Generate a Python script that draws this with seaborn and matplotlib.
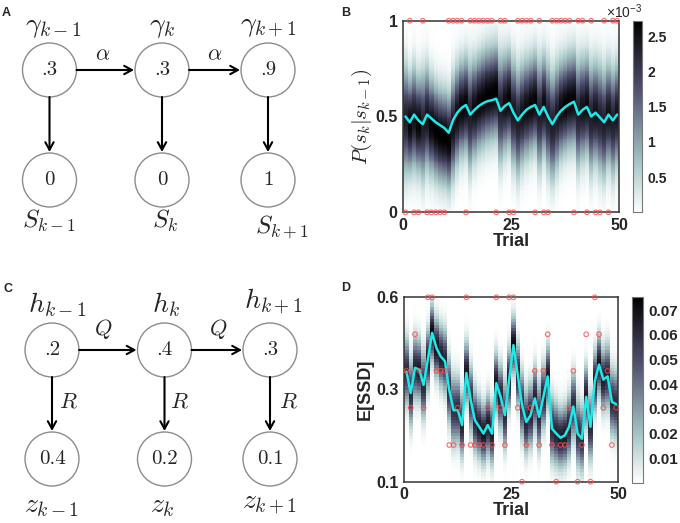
import numpy as np
import pandas as pd
import matplotlib
matplotlib.use('Agg')
import matplotlib.pyplot as plt
from matplotlib.patches import Circle
from matplotlib.ticker import NullLocator
import seaborn as sns

sns.set_style('white')
plt.rcParams['font.family'] = ['Liberation Sans', 'DejaVu Sans']
plt.rcParams['mathtext.fontset'] = 'cm'

W, H = 680, 523

# Panel B: binary outcome per trial, estimated p before each trial,
# and centre / spread of the per-trial distribution
b_outcome = [0, 1, 0, 0, 1, 0, 0, 0, 0, 0,
             1, 1, 1, 1, 0, 1, 1, 1, 1, 1,
             1, 0, 1, 1, 0, 0, 1, 1, 1, 1,
             0, 1, 0, 0, 1, 1, 1, 1, 1, 0,
             1, 1, 0, 1, 0, 0, 1, 0, 1, 1]
b_est = [0.50, 0.47, 0.51, 0.48, 0.46, 0.51, 0.49, 0.47, 0.455, 0.44,
         0.415, 0.48, 0.52, 0.545, 0.56, 0.51, 0.535, 0.555, 0.57, 0.58,
         0.585, 0.593, 0.53, 0.555, 0.57, 0.52, 0.48, 0.51, 0.535, 0.55,
         0.56, 0.51, 0.55, 0.50, 0.46, 0.50, 0.53, 0.55, 0.565, 0.577,
         0.51, 0.535, 0.55, 0.50, 0.52, 0.495, 0.47, 0.51, 0.48, 0.51]
b_center = [0.48, 0.46, 0.49, 0.46, 0.45, 0.49, 0.45, 0.42, 0.40, 0.39,
            0.37, 0.44, 0.50, 0.54, 0.56, 0.50, 0.54, 0.57, 0.59, 0.61,
            0.62, 0.63, 0.54, 0.57, 0.59, 0.52, 0.47, 0.51, 0.54, 0.56,
            0.58, 0.51, 0.56, 0.50, 0.45, 0.50, 0.54, 0.56, 0.58, 0.59,
            0.51, 0.54, 0.56, 0.49, 0.52, 0.49, 0.46, 0.51, 0.47, 0.51]
b_sigma = [0.17, 0.15, 0.16, 0.15, 0.17, 0.16, 0.15, 0.148, 0.147, 0.147,
           0.148, 0.16, 0.155, 0.15, 0.15, 0.17, 0.155, 0.15, 0.15, 0.148,
           0.148, 0.147, 0.17, 0.155, 0.15, 0.165, 0.17, 0.16, 0.155, 0.15,
           0.15, 0.17, 0.155, 0.17, 0.17, 0.165, 0.155, 0.15, 0.15, 0.15,
           0.17, 0.16, 0.155, 0.17, 0.16, 0.17, 0.17, 0.16, 0.17, 0.16]

# Panel D: observed SSD level per trial, estimated SSD and spread (sqrt units)
ssd_levels = [0.1, 0.166, 0.25, 0.35, 0.466, 0.6]
d_obs_idx = [3, 2, 4, 3, 2, 5, 5, 3, 3, 3,
             1, 1, 2, 1, 5, 1, 1, 1, 1, 2,
             1, 5, 2, 1, 5, 5, 2, 0, 1, 2,
             3, 1, 3, 4, 1, 0, 1, 1, 2, 3,
             0, 1, 4, 0, 5, 4, 2, 3, 1, 2]
d_est = [0.348, 0.288, 0.359, 0.354, 0.310, 0.384, 0.471, 0.421, 0.394, 0.379,
         0.296, 0.244, 0.244, 0.209, 0.344, 0.270, 0.220, 0.205, 0.190, 0.209,
         0.190, 0.315, 0.278, 0.232, 0.325, 0.430, 0.339, 0.257, 0.216, 0.232,
         0.274, 0.228, 0.278, 0.334, 0.201, 0.190, 0.181, 0.186, 0.205, 0.253,
         0.190, 0.179, 0.278, 0.205, 0.320, 0.369, 0.325, 0.334, 0.265, 0.259]
d_sigma = [0.05, 0.05, 0.048, 0.046, 0.05, 0.045, 0.042, 0.044, 0.046, 0.048,
           0.05, 0.052, 0.05, 0.048, 0.045, 0.05, 0.048, 0.046, 0.045, 0.046,
           0.046, 0.045, 0.048, 0.05, 0.046, 0.042, 0.046, 0.05, 0.048, 0.048,
           0.048, 0.05, 0.048, 0.046, 0.05, 0.048, 0.046, 0.046, 0.048, 0.05,
           0.052, 0.05, 0.046, 0.05, 0.046, 0.044, 0.046, 0.048, 0.05, 0.05]

# Diagram node labels
gamma_vals = ['.3', '.3', '.9']
s_vals = ['0', '0', '1']
h_vals = ['.2', '.4', '.3']
z_vals = ['0.4', '0.2', '0.1']

CYAN = '#1de9e9'
RED = '#ff4a4a'


def frac(x0, y0, x1, y1):
    # pixel box -> figure fraction
    return [x0 / W, 1 - y1 / H, (x1 - x0) / W, (y1 - y0) / H]


fig = plt.figure(figsize=(W / 100, H / 100), dpi=100)

# overlay in pixel coords for the two graphical models and panel letters
ov = fig.add_axes([0, 0, 1, 1])
ov.set_xlim(0, W)
ov.set_ylim(H, 0)
ov.axis('off')

R_NODE = 27
ARROW = dict(arrowstyle='->,head_length=0.55,head_width=0.3', lw=1.5,
             color='k', shrinkA=0, shrinkB=0)


def draw_chain(xs, y_top, y_bot, top_vals, bot_vals):
    for x, tv, bv in zip(xs, top_vals, bot_vals):
        for y, v in ((y_top, tv), (y_bot, bv)):
            ov.add_patch(Circle((x, y), R_NODE, fill=False, ec='#8c8c8c', lw=1.0))
            ov.text(x, y, v, ha='center', va='center', fontsize=15,
                    fontfamily='cmr10')
        ov.annotate('', xy=(x, y_bot - R_NODE - 1), xytext=(x, y_top + R_NODE),
                    arrowprops=ARROW)
    for xa, xb in zip(xs[:-1], xs[1:]):
        ov.annotate('', xy=(xb - R_NODE - 1, y_top), xytext=(xa + R_NODE, y_top),
                    arrowprops=ARROW)


# A
xa = [49.5, 162, 268]
draw_chain(xa, 70, 180, gamma_vals, s_vals)
for x, lab in zip([53, 162, 268], [r'$\gamma_{k-1}$', r'$\gamma_{k}$', r'$\gamma_{k+1}$']):
    ov.text(x, 27, lab, ha='center', va='center', fontsize=20)
for x, y, lab in zip([48.5, 165, 282], [221, 221, 227], [r'$S_{k-1}$', r'$S_{k}$', r'$S_{k+1}$']):
    ov.text(x, y, lab, ha='center', va='center', fontsize=18)
for x in [103, 215]:
    ov.text(x, 55, r'$\alpha$', ha='center', va='center', fontsize=16)

# C
xc = [52, 164.5, 270]
draw_chain(xc, 350, 459, h_vals, z_vals)
for x, y, lab in zip([56.7, 165.7, 273], [305, 305, 302], [r'$h_{k-1}$', r'$h_{k}$', r'$h_{k+1}$']):
    ov.text(x, y, lab, ha='center', va='center', fontsize=20)
for x, y, lab in zip([52, 162, 270], [506, 506, 504], [r'$z_{k-1}$', r'$z_{k}$', r'$z_{k+1}$']):
    ov.text(x, y, lab, ha='center', va='center', fontsize=20)
for x in [103, 218]:
    ov.text(x, 329, r'$Q$', ha='center', va='center', fontsize=16)
for x in [68, 179, 288]:
    ov.text(x, 402, r'$R$', ha='center', va='center', fontsize=16)

for x, y, lab in [(6.5, 13.5, 'A'), (346, 12.5, 'B'), (8, 289, 'C'), (346, 288, 'D')]:
    ov.text(x, y, lab, ha='center', va='center', fontsize=9, fontweight='bold')


def style_axes(ax):
    for sp in ax.spines.values():
        sp.set_visible(True)
        sp.set_color('#333333')
        sp.set_linewidth(1.1)
    ax.tick_params(direction='in', length=3, width=0.8, labelsize=11.5, pad=4)
    for t in ax.get_xticklabels() + ax.get_yticklabels():
        t.set_fontweight('bold')


def style_cbar(cb, labels, size):
    cb.outline.set_edgecolor('#777777')
    cb.outline.set_linewidth(0.8)
    cb.ax.tick_params(direction='in', length=2, width=0.6, labelsize=size, pad=4)
    cb.ax.set_yticklabels(labels)
    for t in cb.ax.get_yticklabels():
        t.set_fontweight('bold')


# ---------------- B ----------------
nb = len(b_outcome)
pos_b = np.arange(nb) + 0.5
yb_edges = np.linspace(0, 1, 201)
yb_mid = (yb_edges[:-1] + yb_edges[1:]) / 2
dens_b = np.array([0.001 * np.exp(-0.5 * ((yb_mid - c) / s) ** 2) / (np.sqrt(2 * np.pi) * s)
                   for c, s in zip(b_center, b_sigma)]).T

ax_b = fig.add_axes(frac(403.3, 20.7, 619.3, 212.3))
mesh_b = ax_b.pcolormesh(np.arange(nb + 1), yb_edges, dens_b, cmap='bone_r',
                         vmin=0, vmax=2.72e-3, shading='flat', rasterized=True)
df_b = pd.DataFrame({'trial': pos_b, 'est': b_est, 'obs': b_outcome})
sns.lineplot(data=df_b, x='trial', y='est', ax=ax_b, color=CYAN, linewidth=1.8)
sns.scatterplot(data=df_b, x='trial', y='obs', ax=ax_b, facecolor='none',
                edgecolor=RED, s=11, linewidth=0.8, clip_on=False, zorder=5, alpha=0.8)
ax_b.set_xlim(0, 50)
ax_b.set_ylim(0, 1)
ax_b.set_xticks([0, 25, 50])
ax_b.set_xticklabels(['0', '25', '50'])
ax_b.set_yticks([0, 0.5, 1])
ax_b.set_yticklabels(['0', '0.5', '1'])
ax_b.set_xlabel('Trial', fontsize=13, fontweight='bold', labelpad=0)
ax_b.set_ylabel(r'$P(s_k|s_{k-1})$', fontsize=15, labelpad=1)
style_axes(ax_b)

cax_b = fig.add_axes(frac(632.7, 20.7, 641.7, 212.3))
cb_b = fig.colorbar(mesh_b, cax=cax_b)
cb_b.set_ticks([0.5e-3, 1e-3, 1.5e-3, 2e-3, 2.5e-3])
style_cbar(cb_b, ['0.5', '1', '1.5', '2', '2.5'], 10)
fig.text(624 / W, 1 - 12 / H, '×10$\\mathregular{^{-3}}$', ha='center', va='center',
         fontsize=10)

# ---------------- D ----------------
nd = len(d_est)
pos_d = np.arange(nd) + 0.5
s_edges = np.linspace(np.sqrt(ssd_levels[0]), np.sqrt(ssd_levels[-1]), 61)
s_mid = (s_edges[:-1] + s_edges[1:]) / 2
ds = s_edges[1] - s_edges[0]
dens_d = np.array([ds * np.exp(-0.5 * ((s_mid - np.sqrt(m)) / s) ** 2) / (np.sqrt(2 * np.pi) * s)
                   for m, s in zip(d_est, d_sigma)]).T

ax_d = fig.add_axes(frac(404.3, 297.3, 618.3, 481.7))
ax_d.set_yscale('function', functions=(np.sqrt, np.square))
mesh_d = ax_d.pcolormesh(np.arange(nd + 1), s_edges ** 2, dens_d, cmap='bone_r',
                         vmin=0, vmax=0.0754, shading='flat', rasterized=True)
df_d = pd.DataFrame({'trial': pos_d, 'est': d_est,
                     'obs': [ssd_levels[i] for i in d_obs_idx]})
sns.lineplot(data=df_d, x='trial', y='est', ax=ax_d, color=CYAN, linewidth=1.8)
sns.scatterplot(data=df_d, x='trial', y='obs', ax=ax_d, facecolor='none',
                edgecolor=RED, s=11, linewidth=0.8, clip_on=False, zorder=5, alpha=0.8)
ax_d.set_xlim(0, 50)
ax_d.set_ylim(0.1, 0.6)
ax_d.set_xticks([0, 25, 50])
ax_d.set_xticklabels(['0', '25', '50'])
ax_d.set_yticks([0.1, 0.3, 0.6])
ax_d.set_yticklabels(['0.1', '0.3', '0.6'])
ax_d.yaxis.set_minor_locator(NullLocator())
ax_d.set_xlabel('Trial', fontsize=13, fontweight='bold', labelpad=0)
ax_d.set_ylabel('E[SSD]', fontsize=13, fontweight='bold', labelpad=2)
style_axes(ax_d)

cax_d = fig.add_axes(frac(631.7, 296.7, 642.7, 482.7))
cb_d = fig.colorbar(mesh_d, cax=cax_d)
cb_d.set_ticks([0.01, 0.02, 0.03, 0.04, 0.05, 0.06, 0.07])
style_cbar(cb_d, ['0.01', '0.02', '0.03', '0.04', '0.05', '0.06', '0.07'], 11)

fig.savefig('out.png', dpi=100)
